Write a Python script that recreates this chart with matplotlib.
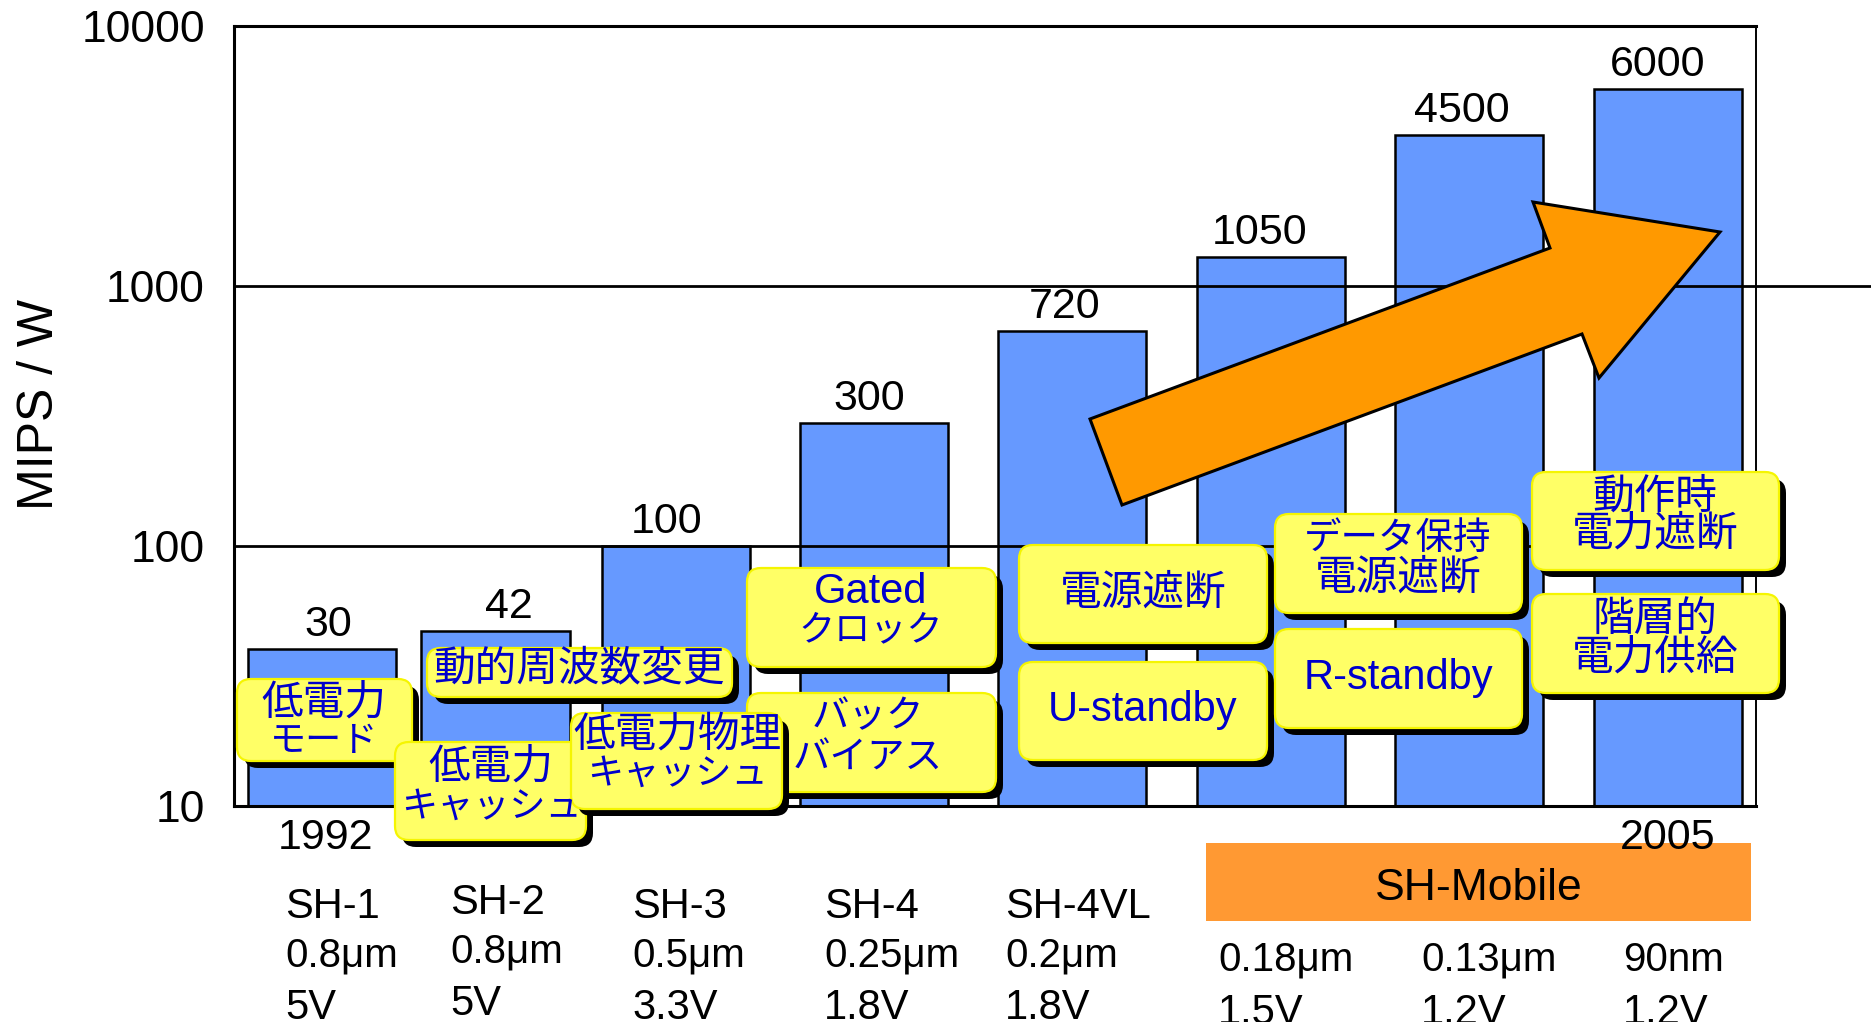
import matplotlib
matplotlib.use("Agg")
import matplotlib.pyplot as plt
from matplotlib.patches import FancyBboxPatch, Rectangle, Polygon

# ---- data ----
chips = ["SH-1", "SH-2", "SH-3", "SH-4", "SH-4VL", "", "", ""]
process = ["0.8μm", "0.8μm", "0.5μm", "0.25μm", "0.2μm", "0.18μm", "0.13μm", "90nm"]
voltage = ["5V", "5V", "3.3V", "1.8V", "1.8V", "1.5V", "1.2V", "1.2V"]
mips_label = ["30", "42", "100", "300", "720", "1050", "4500", "6000"]
bar_height = [40, 47, 100, 296, 670, 1290, 3800, 5700]   # heights as drawn
yticks = [10, 100, 1000, 10000]

W, H = 1871, 1022
LATIN = ["Liberation Sans", "DejaVu Sans"]
CJK = ["Noto Sans CJK JP", "DejaVu Sans"]
BLUE_TXT = "#0000CC"

fig = plt.figure(figsize=(W / 100, H / 100), dpi=100)
ax = fig.add_axes([234 / W, 1 - 806 / H, 1522 / W, 780 / H])

bar_x = [0.442, 1.314, 2.219, 3.216, 4.211, 5.211, 6.206, 7.206]
ax.bar(bar_x, bar_height, width=0.744, color="#6699FF",
       edgecolor="black", linewidth=1.8, zorder=2)
ax.set_yscale("log")
ax.set_ylim(10, 10000)
ax.set_xlim(0, 7.648)
ax.set_xticks([])
ax.set_yticks(yticks)
ax.set_yticklabels([str(t) for t in yticks], family=LATIN, fontsize=32)
ax.minorticks_off()
ax.tick_params(axis="y", length=0, pad=21)
for s in ["left", "top", "bottom"]:
    ax.spines[s].set_linewidth(2.2)
ax.spines["right"].set_linewidth(1.4)

ax.axhline(100, color="black", lw=2.0, zorder=3)
ax.axhline(1000, xmin=0, xmax=(W - 234) / 1522, color="black", lw=2.0,
           zorder=3, clip_on=False)

label_dx = [6, 13, -9, -5, -7, -11, -7, -10]
for x, h, lab, dx in zip(bar_x, bar_height, mips_label, label_dx):
    ax.annotate(lab, (x, h), xytext=(dx, 13), textcoords="offset pixels",
                ha="center", va="baseline", family=LATIN, fontsize=31, zorder=4)

fig.text(40 / W, 1 - 404 / H, "MIPS / W", rotation=90, ha="center",
         va="center", family=LATIN, fontsize=36)

# ---- overlay in pixel coordinates ----
ov = fig.add_axes([0, 0, 1, 1])
ov.set_xlim(0, W)
ov.set_ylim(H, 0)
ov.axis("off")
ov.set_zorder(5)
ov.patch.set_alpha(0)

# arrow
arrow = [(1090, 419), (1550, 248), (1533, 202), (1720, 232),
         (1599, 378), (1582, 334), (1122, 505)]
ov.add_patch(Polygon(arrow, closed=True, fc="#FF9900", ec="black", lw=2.2))

# note boxes: (x0, y0, x1, y1, text_x, [(text, y, size)])
boxes = [
    (237, 679, 412, 761, 324, [("低電力", 703, 30), ("モード", 741, 26)]),
    (427, 648, 732, 697, 579, [("動的周波数変更", 669, 30)]),
    (747, 568, 996, 667, 871, [("Gated", 592, 30), ("クロック", 630, 26)]),
    (747, 693, 996, 792, 868, [("バック", 717, 27), ("バイアス", 758, 27)]),
    (395, 742, 586, 840, 491, [("低電力", 767, 30), ("キャッシュ", 807, 26)]),
    (571, 713, 782, 809, 677, [("低電力物理", 735, 30), ("キャッシュ", 774, 26)]),
    (1019, 545, 1267, 643, 1143, [("電源遮断", 593, 30)]),
    (1019, 662, 1267, 760, 1143, [("U-standby", 710, 30)]),
    (1275, 514, 1522, 613, 1398, [("データ保持", 538, 27), ("電源遮断", 578, 30)]),
    (1275, 629, 1522, 728, 1398, [("R-standby", 678, 30)]),
    (1532, 472, 1779, 570, 1655, [("動作時", 497, 30), ("電力遮断", 534, 30)]),
    (1532, 594, 1779, 693, 1655, [("階層的", 619, 30), ("電力供給", 658, 30)]),
]
for x0, y0, x1, y1, tx, lines in boxes:
    ov.add_patch(FancyBboxPatch((x0 + 7, y0 + 7), x1 - x0, y1 - y0,
                                boxstyle="round,pad=0,rounding_size=14",
                                fc="black", ec="none"))
    ov.add_patch(FancyBboxPatch((x0, y0), x1 - x0, y1 - y0,
                                boxstyle="round,pad=0,rounding_size=14",
                                fc="#FFFF66", ec="#F5F500", lw=1.6))
    for txt, ty, size in lines:
        fam = LATIN if txt.isascii() else CJK
        ov.text(tx, ty, txt, ha="center", va="center", color=BLUE_TXT,
                family=fam, fontsize=size)

# years
ov.text(326, 838, "1992", ha="center", va="center", family=LATIN, fontsize=31)
ov.add_patch(Rectangle((1206, 843), 545, 78, fc="#FF9933", ec="none"))
ov.text(1668, 838, "2005", ha="center", va="center", family=LATIN, fontsize=31)
ov.text(1479, 888, "SH-Mobile", ha="center", va="center", family=LATIN,
        fontsize=32)

# processor / process / voltage columns
col_x = [285, 450, 632, 824, 1005, 1218, 1421, 1623]
col_dy = [0, -4, 0, 0, 0, 5, 5, 5]
for x, dy, c, p, v in zip(col_x, col_dy, chips, process, voltage):
    if c:
        ov.text(x, 918 + dy, c, ha="left", va="baseline", family=LATIN, fontsize=30)
    ov.text(x, 966 + dy, p, ha="left", va="baseline", family=LATIN, fontsize=29)
    ov.text(x, 1019 + dy, v, ha="left", va="baseline", family=LATIN, fontsize=30)

fig.savefig("out.png", dpi=100)
